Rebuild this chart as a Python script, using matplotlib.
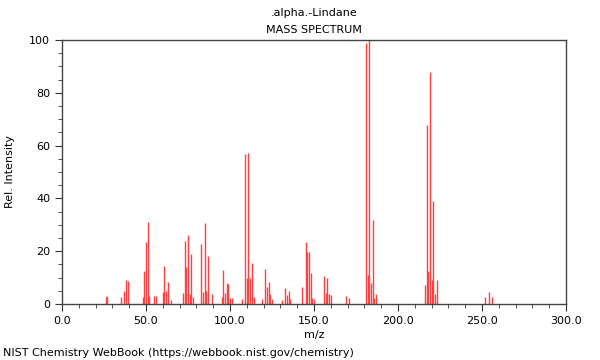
import matplotlib
matplotlib.use("Agg")
import matplotlib.pyplot as plt
from matplotlib.ticker import MultipleLocator

# m/z values and relative intensities
mz = [26, 27, 35, 37, 38, 39, 48, 49, 50, 51, 52, 55, 56,
      60, 61, 62, 63, 65, 72, 73, 74, 75, 76, 77, 78,
      83, 84, 85, 86, 87, 89, 95, 96, 97, 98, 99, 100, 101,
      107, 109, 110, 111, 112, 113, 114, 119, 121, 122, 123, 124, 125,
      131, 133, 134, 135, 136, 143, 145, 146, 147, 148, 149, 150,
      156, 157, 158, 159, 160, 169, 171,
      181, 182, 183, 184, 185, 186, 187,
      216, 217, 218, 219, 220, 221, 222, 223,
      252, 254, 256]
intensity = [2.5, 3.0, 2.6, 5.0, 9.0, 8.7, 2.5, 12.6, 23.6, 31.0, 3.0, 3.0, 3.0,
             4.4, 14.5, 4.9, 8.3, 1.5, 4.3, 24.0, 13.9, 26.0, 3.7, 19.0, 2.8,
             22.8, 4.4, 30.5, 4.9, 18.0, 3.9, 2.5, 12.9, 4.0, 8.0, 7.4, 2.3, 2.3,
             2.0, 57.0, 10.0, 57.3, 10.0, 15.4, 2.7, 2.0, 13.3, 6.4, 8.5, 3.8, 2.0,
             1.5, 6.2, 3.5, 5.0, 2.0, 6.3, 23.5, 19.7, 19.7, 11.9, 2.1, 2.0,
             10.6, 4.2, 10.0, 3.7, 3.5, 3.2, 2.4,
             98.7, 11.0, 100.0, 7.8, 31.8, 2.2, 3.7,
             7.2, 67.8, 12.5, 87.8, 9.1, 39.0, 3.8, 9.1,
             2.7, 4.5, 2.8]

fig = plt.figure(figsize=(6, 3.6), dpi=100)
ax = fig.add_axes([62 / 600, 56 / 360, 504 / 600, 264 / 360])

ax.vlines(mz, 0, intensity, colors="#ff4040", linewidth=1)

ax.set_xlim(0, 300)
ax.set_ylim(0, 100)
ax.xaxis.set_major_locator(MultipleLocator(50))
ax.xaxis.set_minor_locator(MultipleLocator(10))
ax.yaxis.set_major_locator(MultipleLocator(20))
ax.yaxis.set_minor_locator(MultipleLocator(5))
ax.xaxis.set_major_formatter(lambda v, p: f"{v:.1f}")
ax.tick_params(which="both", direction="out", labelsize=8, colors="#333333",
               labelcolor="black")
ax.tick_params(which="major", length=5)
ax.tick_params(which="minor", length=3)
for s in ax.spines.values():
    s.set_color("#444444")
    s.set_linewidth(1)

ax.set_xlabel("m/z", fontsize=8, labelpad=3)
ax.set_ylabel("Rel. Intensity", fontsize=8, labelpad=10)

fig.text(0.5 * (62 + 566) / 600, 1 - 13 / 360, ".alpha.-Lindane",
         ha="center", va="center", fontsize=8)
fig.text(0.5 * (62 + 566) / 600, 1 - 30 / 360, "MASS SPECTRUM",
         ha="center", va="center", fontsize=8)
fig.text(3 / 600, 1 - 353 / 360,
         "NIST Chemistry WebBook (https://webbook.nist.gov/chemistry)",
         ha="left", va="center", fontsize=8)

fig.savefig("out.png", dpi=100)
